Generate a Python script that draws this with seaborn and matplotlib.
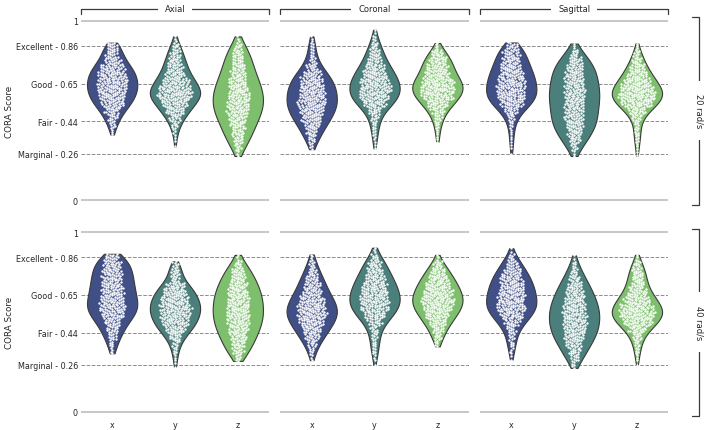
import warnings
import numpy as np
import pandas as pd
import matplotlib
matplotlib.use("Agg")
import matplotlib.pyplot as plt
import seaborn as sns

warnings.filterwarnings("ignore")

# score bins (centre of each 0.04 wide bin) and the number of subjects per bin
bin_centers = [0.22, 0.26, 0.30, 0.34, 0.38, 0.42, 0.46, 0.50, 0.54, 0.58,
               0.62, 0.66, 0.70, 0.74, 0.78, 0.82, 0.86, 0.90, 0.94]
bin_width = 0.04

planes = ["Axial", "Coronal", "Sagittal"]
directions = ["x", "y", "z"]
speeds = ["20 rad/s", "40 rad/s"]

# 20 rad/s
axial_20_x = [0, 0, 0, 0, 3, 7, 11, 18, 27, 33, 36, 36, 34, 28, 19, 14, 13, 0, 0]
axial_20_y = [0, 0, 1, 2, 4, 8, 14, 23, 31, 42, 40, 32, 24, 19, 16, 12, 8, 3, 0]
axial_20_z = [0, 3, 8, 12, 15, 18, 21, 25, 26, 26, 24, 22, 18, 16, 14, 12, 8, 3, 0]
coronal_20_x = [0, 0, 4, 9, 13, 19, 25, 30, 33, 32, 31, 28, 22, 13, 8, 5, 5, 3, 0]
coronal_20_y = [0, 0, 2, 3, 5, 6, 9, 15, 28, 36, 38, 36, 30, 24, 17, 13, 9, 5, 2]
coronal_20_z = [0, 0, 0, 3, 3, 6, 9, 16, 26, 37, 43, 39, 30, 26, 22, 15, 5, 0, 0]
sagittal_20_x = [0, 1, 2, 3, 3, 5, 8, 16, 28, 35, 34, 33, 30, 26, 22, 19, 14, 0, 0]
sagittal_20_y = [0, 3, 8, 13, 18, 21, 23, 22, 24, 25, 24, 23, 22, 20, 16, 9, 3, 0, 0]
sagittal_20_z = [0, 2, 3, 5, 6, 6, 11, 21, 37, 46, 43, 34, 25, 18, 12, 7, 3, 0, 0]

# 40 rad/s
axial_40_x = [0, 0, 0, 4, 6, 10, 14, 19, 27, 32, 29, 27, 26, 24, 24, 21, 17, 0, 0]
axial_40_y = [0, 2, 3, 5, 8, 15, 25, 32, 36, 38, 35, 30, 23, 10, 11, 7, 0, 0, 0]
axial_40_z = [0, 0, 7, 13, 16, 20, 23, 26, 27, 27, 26, 25, 22, 18, 15, 9, 3, 0, 0]
coronal_40_x = [0, 0, 3, 6, 11, 18, 24, 31, 36, 35, 31, 24, 20, 16, 11, 7, 4, 0, 0]
coronal_40_y = [0, 1, 3, 5, 6, 7, 9, 16, 26, 33, 36, 33, 30, 25, 20, 16, 9, 3, 0]
coronal_40_z = [0, 0, 0, 0, 5, 9, 14, 21, 29, 36, 39, 36, 31, 25, 18, 11, 3, 0, 0]
sagittal_40_x = [0, 0, 2, 4, 6, 7, 11, 19, 28, 35, 34, 32, 30, 26, 21, 14, 8, 2, 0]
sagittal_40_y = [0, 5, 10, 15, 19, 25, 27, 29, 29, 28, 25, 22, 18, 13, 9, 5, 2, 0, 0]
sagittal_40_z = [0, 1, 3, 5, 7, 11, 21, 34, 43, 40, 32, 23, 17, 15, 13, 9, 3, 0, 0]

rating_values = [0.26, 0.44, 0.65, 0.86]
ytick_values = [0, 0.26, 0.44, 0.65, 0.86, 1]
ytick_labels = ["0", "Marginal - 0.26", "Fair - 0.44", "Good - 0.65", "Excellent - 0.86", "1"]

direction_colors = ["#414f87", "#4b7f7b", "#7dbf6c"]

counts = {
    ("20 rad/s", "Axial"): [axial_20_x, axial_20_y, axial_20_z],
    ("20 rad/s", "Coronal"): [coronal_20_x, coronal_20_y, coronal_20_z],
    ("20 rad/s", "Sagittal"): [sagittal_20_x, sagittal_20_y, sagittal_20_z],
    ("40 rad/s", "Axial"): [axial_40_x, axial_40_y, axial_40_z],
    ("40 rad/s", "Coronal"): [coronal_40_x, coronal_40_y, coronal_40_z],
    ("40 rad/s", "Sagittal"): [sagittal_40_x, sagittal_40_y, sagittal_40_z],
}

# one row per subject score, spread evenly inside its bin
rows = []
for (speed, plane), per_dir in counts.items():
    for direction, cnt in zip(directions, per_dir):
        for c, n in zip(bin_centers, cnt):
            for k in range(n):
                score = c - bin_width / 2 + (k + 0.5) * bin_width / n
                rows.append((speed, plane, direction, round(score, 3)))
df = pd.DataFrame(rows, columns=["speed", "plane", "direction", "score"])

sns.set_theme(style="white")
plt.rcParams["font.family"] = ["DejaVu Sans"]
plt.rcParams["font.size"] = 6
text_color = "#262626"

fig, axes = plt.subplots(2, 3, figsize=(7.08, 4.31), dpi=100, sharey=True)
fig.subplots_adjust(left=0.114, right=0.944, top=0.962, bottom=0.030,
                    wspace=0.0585, hspace=0.11)

for i, speed in enumerate(speeds):
    for j, plane in enumerate(planes):
        ax = axes[i, j]
        sub = df[(df["speed"] == speed) & (df["plane"] == plane)]

        for v in rating_values:
            ax.axhline(v, color="#8c8c8c", ls="--", lw=0.7, zorder=0)
        for v in [0, 1]:
            ax.axhline(v, color="#bdbdbd", lw=1.2, zorder=0)

        sns.violinplot(data=sub, x="direction", y="score", hue="direction",
                       order=directions, hue_order=directions,
                       palette=direction_colors, saturation=1,
                       density_norm="width", cut=0, inner=None,
                       linewidth=0.8, linecolor="#3a3a3a", legend=False, ax=ax)
        sns.swarmplot(data=sub, x="direction", y="score", order=directions,
                      color="white", size=1.7, linewidth=0, ax=ax)

        ax.set_ylim(-0.03, 1.03)
        ax.set_xlim(-0.5, 2.5)
        ax.set_xlabel("")
        ax.set_yticks(ytick_values)
        ax.set_yticklabels(ytick_labels)
        ax.tick_params(length=0, pad=2, labelsize=5.8, colors=text_color)
        if j == 0:
            ax.set_ylabel("CORA Score", fontsize=6.3, color=text_color, labelpad=1.5)
        else:
            ax.set_ylabel("")
            ax.tick_params(labelleft=False)
        if i == 0:
            ax.tick_params(labelbottom=False)
        sns.despine(ax=ax, left=True, bottom=True)

# column headers with brackets
for j, plane in enumerate(planes):
    ax = axes[0, j]
    ax.plot([0, 0, 1, 1], [1.007, 1.034, 1.034, 1.007], transform=ax.transAxes,
            color="#3a3a3a", lw=0.9, clip_on=False)
    ax.text(0.5, 1.034, plane, transform=ax.transAxes, ha="center", va="center",
            fontsize=6, color=text_color,
            bbox=dict(facecolor="white", edgecolor="none", pad=5))

# row labels with brackets
for i, speed in enumerate(speeds):
    ax = axes[i, 2]
    ax.plot([1.128, 1.16, 1.16, 1.128], [0.99, 0.99, 0.005, 0.005],
            transform=ax.transAxes, color="#3a3a3a", lw=0.9, clip_on=False)
    ax.text(1.163, 0.5, speed, transform=ax.transAxes, ha="center", va="center",
            rotation=270, fontsize=6, color=text_color,
            bbox=dict(facecolor="white", edgecolor="none", pad=9))

fig.savefig("out.png", dpi=100)
